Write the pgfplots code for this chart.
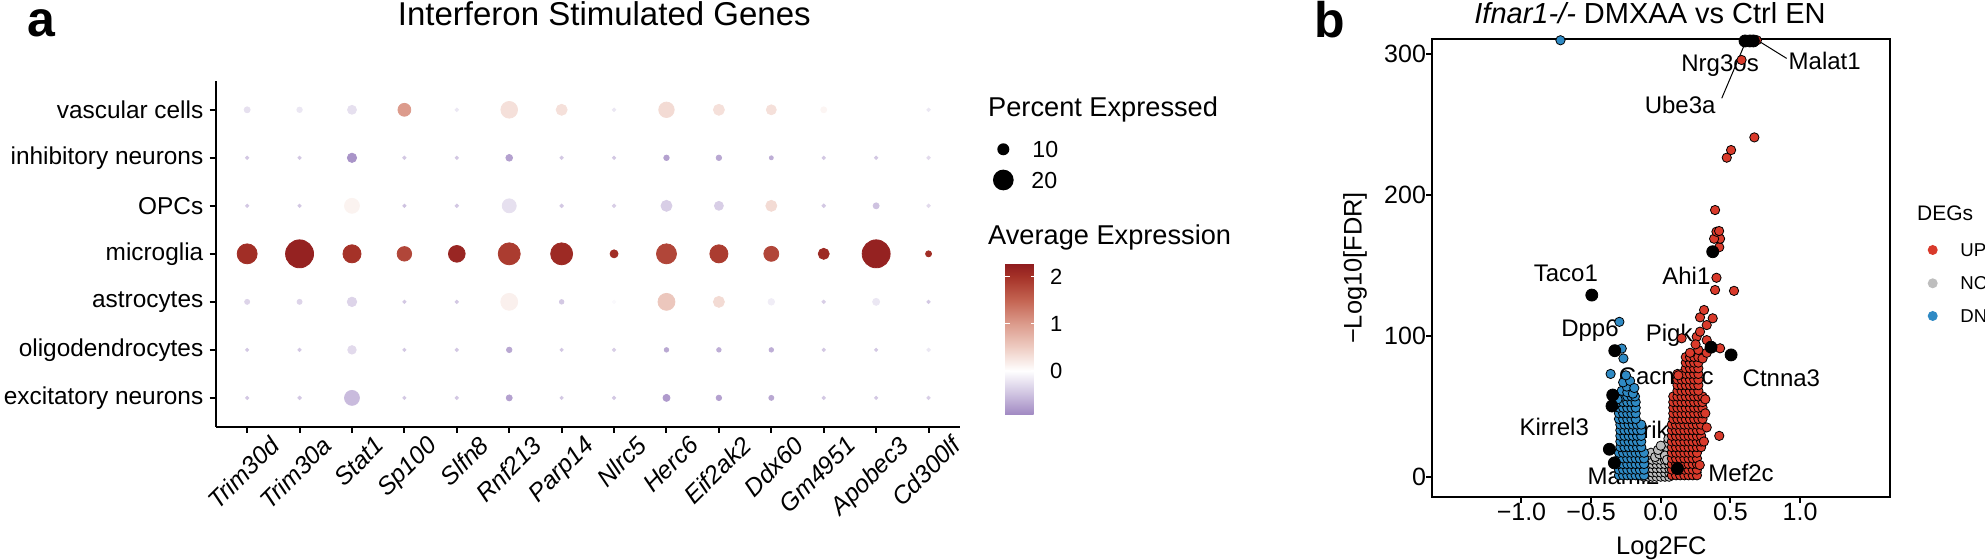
\documentclass[border=0pt]{standalone}
\usepackage{fontspec}
\setmainfont{Liberation Sans}
\usepackage{pgfplots}
\usepackage{pgfplotstable}
\pgfplotsset{compat=1.18}
\usetikzlibrary{calc}

\definecolor{upred}{RGB}{217,58,43}
\definecolor{dnblue}{RGB}{47,138,196}
\definecolor{ncgrey}{RGB}{190,190,190}

\pgfplotsset{colormap={avgexp}{rgb255(0pt)=(160,136,194) rgb255(44pt)=(206,194,224) rgb255(94pt)=(255,255,255) rgb255(144pt)=(238,204,194) rgb255(194pt)=(220,155,140) rgb255(244pt)=(196,100,82) rgb255(294pt)=(165,50,40) rgb255(322.5pt)=(142,27,30)}}

\newcommand{\fs}[1]{\fontsize{#1}{#1}\selectfont}

% dot plot: x = gene index, y = cell type index, pct = percent expressed, avg = scaled average expression
\pgfplotstableread{
x y pct avg
1 7 3.1 -0.25
2 7 2.5 -0.2
3 7 6.5 -0.25
4 7 11 1.0
5 7 0.3 -0.2
6 7 15.4 0.3
7 7 8.9 0.3
8 7 0.3 -0.2
9 7 14 0.35
10 7 8.9 0.3
11 7 7.7 0.3
12 7 3.1 0.1
13 7 2.5 0.0
14 7 0.3 -0.2
1 6 0 -0.45
2 6 0 -0.45
3 6 6.9 -0.85
4 6 0 -0.45
5 6 0 -0.45
6 6 3.9 -0.75
7 6 0 -0.45
8 6 0 -0.45
9 6 2.5 -0.75
10 6 2.5 -0.7
11 6 0.8 -0.65
12 6 0 -0.45
13 6 0 -0.45
14 6 0.3 -0.3
1 5 0 -0.45
2 5 0 -0.45
3 5 13.4 0.12
4 5 0 -0.5
5 5 0.3 -0.45
6 5 12.3 -0.25
7 5 0.3 -0.45
8 5 0.3 -0.4
9 5 8.9 -0.4
10 5 6.5 -0.4
11 5 8.9 0.35
12 5 0.3 -0.45
13 5 3.1 -0.5
14 5 0.3 -0.3
1 4 19.2 2.05
2 4 28.4 2.2
3 4 17 2.0
4 4 12.9 1.8
5 4 15.4 2.15
6 4 21.5 1.9
7 4 21.5 2.1
8 4 5.4 2.05
9 4 19.2 1.8
10 4 17 1.9
11 4 13.4 1.8
12 4 8.9 2.1
13 4 28.4 2.2
14 4 3.1 2.05
1 3 2 -0.35
2 3 2 -0.35
3 3 7.1 -0.35
4 3 0 -0.45
5 3 0 -0.45
6 3 15.7 0.15
7 3 1.4 -0.45
8 3 0.3 -0.05
9 3 15.7 0.55
10 3 8.9 0.35
11 3 3.7 -0.15
12 3 0.3 -0.4
13 3 4.3 -0.2
14 3 0 -0.45
1 2 0 -0.45
2 2 0 -0.45
3 2 6 -0.3
4 2 0 -0.45
5 2 0 -0.45
6 2 2.5 -0.7
7 2 0 -0.45
8 2 0 -0.4
9 2 1.4 -0.7
10 2 1.4 -0.65
11 2 1.4 -0.65
12 2 0 -0.45
13 2 0 -0.45
14 2 0.3 -0.2
1 1 0 -0.45
2 1 0.3 -0.45
3 1 13.4 -0.55
4 1 0 -0.45
5 1 0 -0.45
6 1 3.1 -0.75
7 1 0 -0.45
8 1 0 -0.45
9 1 4.3 -0.8
10 1 2.5 -0.75
11 1 2 -0.7
12 1 0 -0.45
13 1 0 -0.45
14 1 0 -0.4
}\dotdata

\pgfplotstableread{
x y
-0.12 0
-0.09 0
-0.06 0
-0.03 0
0.00 0
0.03 0
0.06 0
-0.12 3
-0.09 3
-0.06 3
-0.03 3
0.00 3
0.03 3
0.06 3
-0.12 6
-0.09 6
-0.06 6
-0.03 6
0.00 6
0.03 6
0.06 6
-0.12 9
-0.09 9
-0.06 9
-0.03 9
0.00 9
0.03 9
0.06 9
-0.12 12
-0.09 12
-0.06 12
-0.03 12
0.00 12
0.03 12
0.06 12
-0.10 15
-0.07 17
-0.04 14
-0.01 16
0.02 18
0.04 21
0.05 24
0.055 27
0.03 15
-0.02 19
0.00 22
0.045 12
}\ncdata

\pgfplotstableread{
x y
-0.30 1
-0.27 1
-0.24 1
-0.21 1
-0.18 1
-0.15 1
-0.12 1
-0.30 5
-0.27 5
-0.24 5
-0.21 5
-0.18 5
-0.15 5
-0.12 5
-0.30 9
-0.27 9
-0.24 9
-0.21 9
-0.18 9
-0.15 9
-0.12 9
-0.30 13
-0.27 13
-0.24 13
-0.21 13
-0.18 13
-0.15 13
-0.12 13
-0.30 17
-0.27 17
-0.24 17
-0.21 17
-0.18 17
-0.15 17
-0.12 17
-0.29 21
-0.26 21
-0.23 21
-0.20 21
-0.17 21
-0.14 21
-0.29 25
-0.26 25
-0.23 25
-0.20 25
-0.17 25
-0.14 25
-0.29 29
-0.26 29
-0.23 29
-0.20 29
-0.17 29
-0.14 29
-0.29 33
-0.26 33
-0.23 33
-0.20 33
-0.17 33
-0.14 33
-0.29 37
-0.26 37
-0.23 37
-0.20 37
-0.17 37
-0.14 37
-0.30 41
-0.27 41
-0.24 41
-0.21 41
-0.18 41
-0.30 45
-0.27 45
-0.24 45
-0.21 45
-0.18 45
-0.30 49
-0.27 49
-0.24 49
-0.21 49
-0.18 49
-0.30 53
-0.27 53
-0.24 53
-0.21 53
-0.18 53
-0.30 57
-0.27 57
-0.24 57
-0.21 57
-0.185 57
-0.31 55
-0.28 61
-0.24 60
-0.20 59
-0.244 64
-0.27 67
-0.22 68
-0.25 72
-0.19 63
-0.36 73
-0.268 84
-0.28 91
-0.297 110
-0.72 310
}\dndata

\pgfplotstableread{
x y
0.08 1
0.11 1
0.14 1
0.17 1
0.20 1
0.23 1
0.26 1
0.08 5
0.11 5
0.14 5
0.17 5
0.20 5
0.23 5
0.26 5
0.08 9
0.11 9
0.14 9
0.17 9
0.20 9
0.23 9
0.26 9
0.08 13
0.11 13
0.14 13
0.17 13
0.20 13
0.23 13
0.26 13
0.08 17
0.11 17
0.14 17
0.17 17
0.20 17
0.23 17
0.26 17
0.08 21
0.11 21
0.14 21
0.17 21
0.20 21
0.23 21
0.26 21
0.29 21
0.08 25
0.11 25
0.14 25
0.17 25
0.20 25
0.23 25
0.26 25
0.29 25
0.08 29
0.11 29
0.14 29
0.17 29
0.20 29
0.23 29
0.26 29
0.29 29
0.08 33
0.11 33
0.14 33
0.17 33
0.20 33
0.23 33
0.26 33
0.29 33
0.08 37
0.11 37
0.14 37
0.17 37
0.20 37
0.23 37
0.26 37
0.29 37
0.09 41
0.12 41
0.15 41
0.18 41
0.21 41
0.24 41
0.27 41
0.30 41
0.09 45
0.12 45
0.15 45
0.18 45
0.21 45
0.24 45
0.27 45
0.30 45
0.09 49
0.12 49
0.15 49
0.18 49
0.21 49
0.24 49
0.27 49
0.30 49
0.09 53
0.12 53
0.15 53
0.18 53
0.21 53
0.24 53
0.27 53
0.30 53
0.09 57
0.12 57
0.15 57
0.18 57
0.21 57
0.24 57
0.27 57
0.30 57
0.12 61
0.15 61
0.18 61
0.21 61
0.24 61
0.27 61
0.12 65
0.15 65
0.18 65
0.21 65
0.24 65
0.27 65
0.12 69
0.15 69
0.18 69
0.21 69
0.24 69
0.27 69
0.12 73
0.15 73
0.18 73
0.21 73
0.24 73
0.27 73
0.18 77
0.21 77
0.24 77
0.27 77
0.18 81
0.21 81
0.24 81
0.27 81
0.18 85
0.21 85
0.24 85
0.27 85
0.32 45
0.33 35
0.31 25
0.32 55
0.28 8.3
0.42 29
0.30 84
0.126 72
0.15 98.3
0.258 99.4
0.33 97
0.282 103
0.33 107.7
0.282 113.2
0.373 112.5
0.311 118.4
0.426 91.2
0.27 90
0.33 88
0.25 94
0.21 88
0.40 141.3
0.39 132.6
0.526 132
0.42 163
0.426 169
0.383 169
0.40 174
0.419 174.5
0.39 189.4
0.474 226.6
0.505 232
0.672 241
0.58 296
0.69 310
}\updata

\pgfplotstableread{
x y
0.605 309.5
0.64 309.5
0.665 309.5
0.373 159.8
-0.495 129
-0.33 89.5
0.361 92
0.505 86.5
-0.345 58
-0.35 50.2
-0.369 19.5
-0.333 9.8
0.12 5.8
}\labdata

\begin{document}
\begin{tikzpicture}[every node/.style={inner sep=0pt}]
\useasboundingbox (0,0) rectangle (992.5pt,280pt);
\clip (0,0) rectangle (992.5pt,280pt);

% ---------------- panel a ----------------
\begin{axis}[
  at={(107.85pt,66.65pt)}, anchor=south west,
  scale only axis, width=372.15pt, height=172.85pt,
  xmin=0.4, xmax=14.6, ymin=0.4, ymax=7.6,
  axis x line*=bottom, axis y line*=left,
  axis line style={line width=1pt, black, -},
  xtick={1,...,14},
  xticklabels={Trim30d,Trim30a,Stat1,Sp100,Slfn8,Rnf213,Parp14,Nlrc5,Herc6,Eif2ak2,Ddx60,Gm4951,Apobec3,Cd300lf},
  ytick={1,...,7},
  yticklabels={excitatory neurons,oligodendrocytes,astrocytes,microglia,OPCs,inhibitory neurons,vascular cells},
  tick align=outside, major tick length=3pt,
  tick style={line width=1pt, black},
  xticklabel style={font=\fs{12.4pt}\itshape, rotate=45, anchor=north east, inner sep=0pt, xshift=7pt, yshift=-8pt},
  yticklabel style={font=\fs{12.2pt}, anchor=east, inner sep=0pt, xshift=-3pt},
  point meta min=-0.94, point meta max=2.285,
  colormap name=avgexp,
  colorbar,
  colorbar style={
    at={($(parent axis.south west)+(386.15pt,5.85pt)$)}, anchor=south west,
    scale only axis, width=15.5pt, height=75.85pt,
    ytick={0,1,2}, yticklabels={0,1,2}, yticklabel pos=right, ytick pos=both,
    axis line style={draw=none},
    tick align=inside, major tick length=2.7pt,
    ytick style={draw=white, line width=0.6pt},
    yticklabel style={font=\fs{11pt}, anchor=west, inner sep=0pt, xshift=6.85pt},
  },
  clip=false,
]
\addplot[scatter, only marks, mark=*, point meta=explicit,
  scatter/use mapped color={draw=mapped color, fill=mapped color},
  visualization depends on={(3.3+0.87*\thisrow{pct})/4 \as \msize},
  scatter/@pre marker code/.append style={/tikz/mark size=\msize}]
  table[x=x, y=y, meta=avg] {\dotdata};
\end{axis}

\node[font=\fs{16.5pt}, anchor=base] at (302.15pt,267pt) {Interferon Stimulated Genes};
\node[font=\fs{25pt}\bfseries, anchor=base west] at (13.5pt,261.5pt) {a};
\node[font=\fs{13.6pt}, anchor=base west] at (493.9pt,221.65pt) {Percent Expressed};
\fill[black] (501.65pt,205.35pt) circle (3pt);
\fill[black] (501.65pt,190pt) circle (5.18pt);
\node[font=\fs{11.6pt}, anchor=base west] at (516pt,201.15pt) {10};
\node[font=\fs{11.6pt}, anchor=base west] at (515.5pt,185.8pt) {20};
\node[font=\fs{13.6pt}, anchor=base west] at (493.9pt,157.5pt) {Average Expression};

% ---------------- panel b ----------------
\begin{axis}[
  at={(716.15pt,31.65pt)}, anchor=south west,
  scale only axis, width=228.85pt, height=228.85pt,
  xmin=-1.64, xmax=1.646, ymin=-14.2, ymax=310.9,
  xtick={-1,-0.5,0,0.5,1}, xticklabels={−1.0,−0.5,0.0,0.5,1.0},
  ytick={0,100,200,300}, yticklabels={0,100,200,300},
  tick pos=left,
  tick align=outside, major tick length=3pt,
  tick style={line width=1pt, black},
  axis line style={line width=1pt, black},
  ticklabel style={font=\fs{12.5pt}},
]
\addplot[only marks, mark=*, mark size=2.33pt, mark options={draw=none, fill=ncgrey}] table[x=x,y=y] {\ncdata};
\addplot[only marks, mark=*, mark size=2.33pt, mark options={draw=none, fill=dnblue}] table[x=x,y=y] {\dndata};
\addplot[only marks, mark=*, mark size=2.33pt, mark options={draw=none, fill=upred}] table[x=x,y=y] {\updata};
\addplot[only marks, mark=*, mark size=3pt, mark options={draw=none, fill=black}] table[x=x,y=y] {\labdata};
\draw[black, line width=0.5pt] (0.712,308.9) -- (0.904,297.1);
\draw[black, line width=0.5pt] (0.438,268.8) -- (0.605,307.8);
\draw[black, line width=0.5pt] (0.163,5.7) -- (0.294,3.1);
\node[font=\fs{12pt}, anchor=base] at (0.426,287.5) {Nrg3os};
\node[font=\fs{12pt}, anchor=base] at (1.177,289.3) {Malat1};
\node[font=\fs{12pt}, anchor=base] at (0.139,257.9) {Ube3a};
\node[font=\fs{12pt}, anchor=base] at (-0.681,138.8) {Taco1};
\node[font=\fs{12pt}, anchor=base] at (0.184,136.4) {Ahi1};
\node[font=\fs{12pt}, anchor=base] at (-0.508,99.3) {Dpp6};
\node[font=\fs{12pt}, anchor=base] at (0.061,95.7) {Pigk};
\node[font=\fs{12pt}, anchor=base] at (0.039,65.6) {Cacna1c};
\node[font=\fs{12pt}, anchor=base] at (0.866,63.8) {Ctnna3};
\node[font=\fs{12pt}, anchor=base] at (-0.765,29.4) {Kirrel3};
\node[font=\fs{12pt}, anchor=base] at (-0.053,27.1) {Grik4};
\node[font=\fs{12pt}, anchor=base] at (-0.267,-5.6) {Maml2};
\node[font=\fs{12pt}, anchor=base] at (0.576,-3.2) {Mef2c};
\end{axis}

\node[font=\fs{25pt}\bfseries, anchor=base west] at (657.25pt,261.25pt) {b};
\node[font=\fs{14.5pt}, anchor=base] at (825pt,268.35pt) {\textit{Ifnar1-/-} DMXAA vs Ctrl EN};
\node[font=\fs{12.7pt}, rotate=90, anchor=center] at (677.5pt,146pt) {−Log10[FDR]};
\node[font=\fs{12.7pt}, anchor=base] at (830.65pt,2.5pt) {Log2FC};

\node[font=\fs{10.5pt}, anchor=base west] at (958.35pt,169.75pt) {DEGs};
\fill[upred] (966.35pt,155pt) circle (2.5pt);
\fill[ncgrey] (966.35pt,138.35pt) circle (2.5pt);
\fill[dnblue] (966.35pt,122pt) circle (2.5pt);
\node[font=\fs{9.3pt}, anchor=base west] at (980pt,151.65pt) {UP};
\node[font=\fs{9.3pt}, anchor=base west] at (980pt,135pt) {NC};
\node[font=\fs{9.3pt}, anchor=base west] at (980pt,118.65pt) {DN};
\end{tikzpicture}
\end{document}
